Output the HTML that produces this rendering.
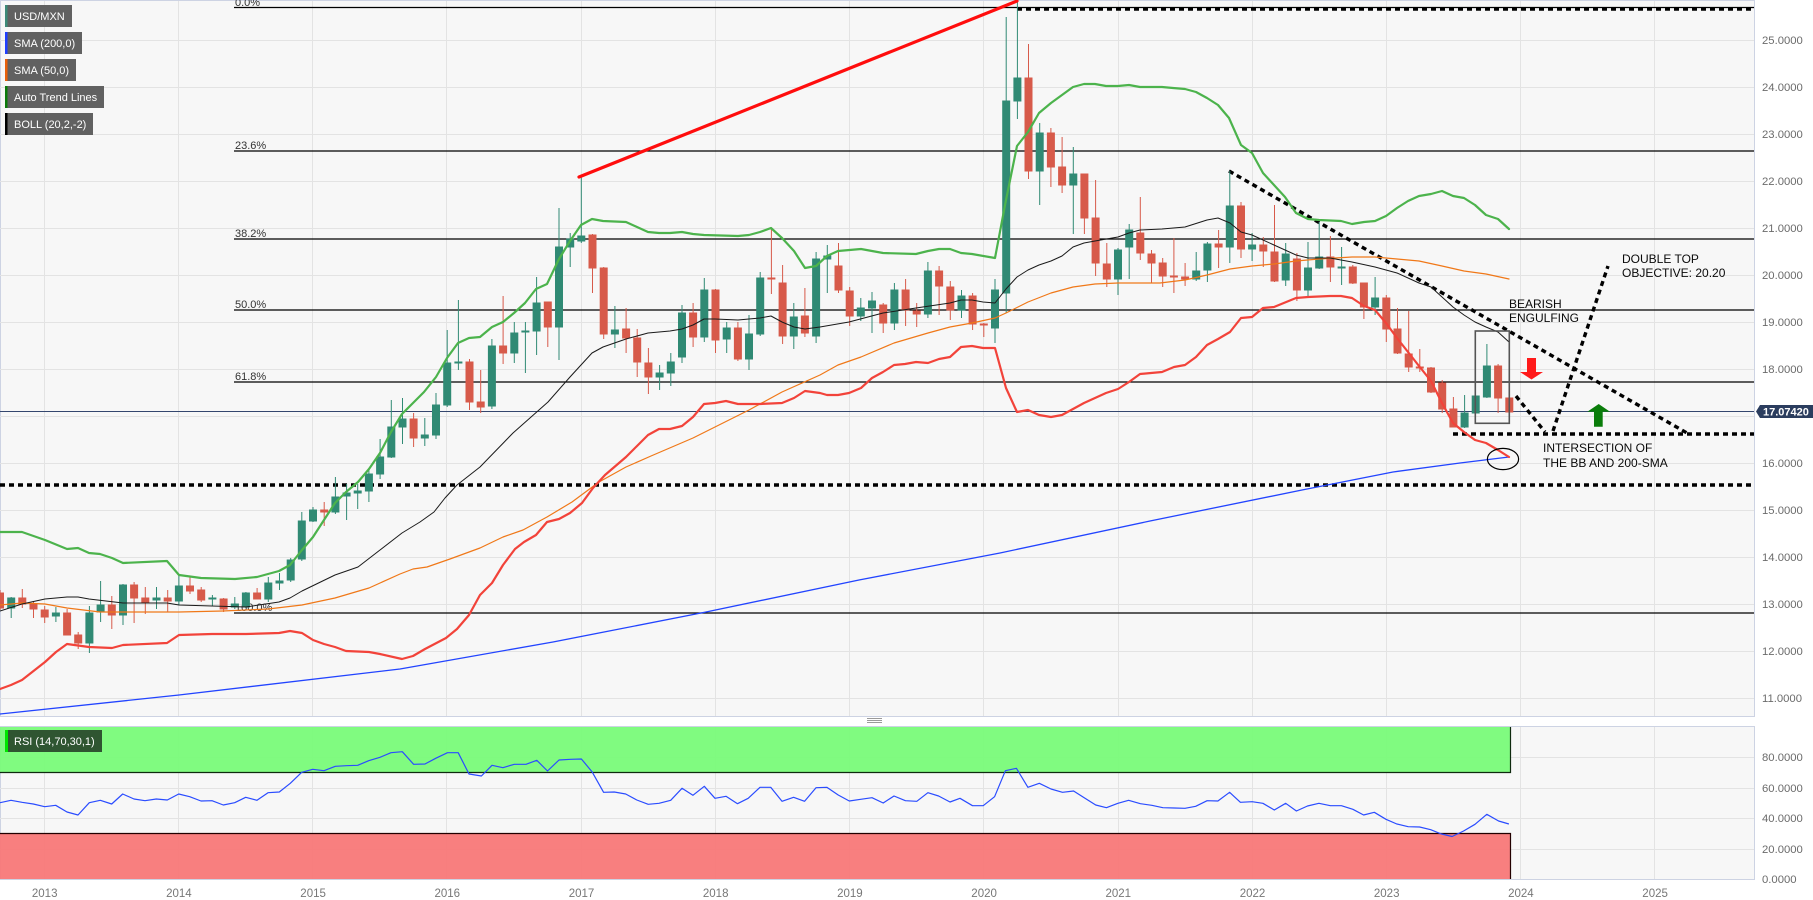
<!DOCTYPE html>
<html><head><meta charset="utf-8"><style>
html,body{margin:0;padding:0;background:#fff;}
svg{display:block;}
text{font-family:"Liberation Sans",Arial,sans-serif;}
</style></head><body>
<svg width="1813" height="900" viewBox="0 0 1813 900" xmlns="http://www.w3.org/2000/svg">
<defs>
<clipPath id="mc"><rect x="0" y="0" width="1754" height="716"/></clipPath>
<clipPath id="rc"><rect x="0" y="726" width="1754" height="153"/></clipPath>
</defs>
<rect x="0" y="0" width="1813" height="900" fill="#fff"/>
<!-- main panel -->
<rect x="0.5" y="0.5" width="1754" height="716" fill="#f7f7f7" stroke="#cdd3e3"/>
<!-- rsi panel -->
<rect x="0.5" y="726.5" width="1754" height="153" fill="#f7f7f7" stroke="#cdd3e3"/>
<!-- grid -->
<g stroke="#e3e3e3" stroke-width="1">
<path d="M0 40.5H1754M0 87.5H1754M0 134.5H1754M0 181.5H1754M0 228.5H1754M0 275.5H1754M0 322.5H1754M0 369.5H1754M0 416.5H1754M0 463.5H1754M0 510.5H1754M0 557.5H1754M0 604.5H1754M0 651.5H1754M0 698.5H1754"/>
<path d="M44.5 1V716M178.5 1V716M312.5 1V716M446.5 1V716M581.5 1V716M715.5 1V716M849.5 1V716M983.5 1V716M1118.5 1V716M1252.5 1V716M1386.5 1V716M1520.5 1V716M1654.5 1V716"/>
<path d="M44.5 727V879M178.5 727V879M312.5 727V879M446.5 727V879M581.5 727V879M715.5 727V879M849.5 727V879M983.5 727V879M1118.5 727V879M1252.5 727V879M1386.5 727V879M1520.5 727V879M1654.5 727V879"/>
<path d="M0 757.5H1754M0 788.5H1754M0 818.5H1754M0 849.5H1754"/>
</g>

<g clip-path="url(#mc)">
<!-- fib lines -->
<g stroke="#000" stroke-width="1.2">
<path d="M234 7.5H1754M234 151H1754M234 239H1754M234 310H1754M234 382H1754M234 613H1754"/>
</g>
<g fill="#333" font-size="11">
<text x="235" y="6">0.0%</text>
<text x="235" y="149">23.6%</text>
<text x="235" y="237">38.2%</text>
<text x="235" y="308">50.0%</text>
<text x="235" y="380">61.8%</text>
<text x="235" y="611">100.0%</text>
</g>
<!-- current price line -->
<path d="M0 411.5H1754" stroke="#34466e" stroke-width="1"/>
<!-- horizontal dashed lines -->
<g stroke="#000" stroke-width="3.4" stroke-dasharray="5 4" fill="none">
<path d="M0 485H1754"/>
<path d="M1453 434H1754"/>
<path d="M1017 9H1754"/>
<path d="M1229 171L1687 433"/>
<path d="M1516 396L1545 432"/>
<path d="M1553 431L1608 266"/>
</g>

<!-- candles red -->
<g fill="#d75a4a" stroke="#d75a4a" stroke-width="1">
<path d="M0 590V610M-3.5 593h7v15h-7z"/>
<path d="M22.3 589V608M18.8 598h7v6h-7z"/>
<path d="M33.5 601V618M30 604h7v5h-7z"/>
<path d="M44.7 606V623M41.2 610h7v7h-7z"/>
<path d="M67.1 609V635M63.6 613h7v22h-7z"/>
<path d="M78.2 632V649M74.7 635h7v8h-7z"/>
<path d="M111.8 596V629M108.3 605h7v10h-7z"/>
<path d="M134.1 582V623M130.6 585h7v13h-7z"/>
<path d="M145.3 587V614M141.8 598h7v5h-7z"/>
<path d="M167.7 590V612M164.2 598h7v3h-7z"/>
<path d="M190 577V594M186.5 586h7v5h-7z"/>
<path d="M201.2 587V602M197.7 590h7v10h-7z"/>
<path d="M223.6 598V612M220.1 599h7v10h-7z"/>
<path d="M257.1 588V599M253.6 593h7v6h-7z"/>
<path d="M324.2 502V526M320.7 510h7v2h-7z"/>
<path d="M413.6 413V447M410.1 419h7v19h-7z"/>
<path d="M469.5 359V410M466 362h7v40h-7z"/>
<path d="M480.7 370V413M477.2 402h7v5h-7z"/>
<path d="M503.1 296V364M499.6 346h7v7h-7z"/>
<path d="M547.8 302V347M544.3 302h7v25h-7z"/>
<path d="M592.5 234V293M589 235h7v33h-7z"/>
<path d="M603.7 267V339M600.2 268h7v66h-7z"/>
<path d="M626.1 308V353M622.6 329h7v9h-7z"/>
<path d="M637.2 329V377M633.7 338h7v24h-7z"/>
<path d="M648.4 348V394M644.9 363h7v14h-7z"/>
<path d="M693.1 303V347M689.6 313h7v24h-7z"/>
<path d="M715.5 289V353M712 290h7v50h-7z"/>
<path d="M737.9 322V361M734.4 328h7v31h-7z"/>
<path d="M771.4 229V294M767.9 278h7v1h-7z"/>
<path d="M782.6 265V344M779.1 283h7v53h-7z"/>
<path d="M804.9 288V337M801.4 316h7v17h-7z"/>
<path d="M838.5 243V293M835 266h7v24h-7z"/>
<path d="M849.7 287V326M846.2 291h7v25h-7z"/>
<path d="M883.2 303V333M879.7 305h7v18h-7z"/>
<path d="M905.6 279V326M902.1 290h7v20h-7z"/>
<path d="M916.7 303V327M913.2 311h7v3h-7z"/>
<path d="M939.1 266V315M935.6 271h7v15h-7z"/>
<path d="M950.3 281V320M946.8 287h7v23h-7z"/>
<path d="M972.6 293V330M969.1 296h7v28h-7z"/>
<path d="M983.8 323V337M980.3 324h7v1h-7z"/>
<path d="M1028.5 44V179M1025 78h7v93h-7z"/>
<path d="M1050.9 128V187M1047.4 133h7v34h-7z"/>
<path d="M1062.1 137V193M1058.6 167h7v18h-7z"/>
<path d="M1084.4 174V234M1080.9 174h7v44h-7z"/>
<path d="M1095.6 180V276M1092.1 218h7v45h-7z"/>
<path d="M1106.8 243V287M1103.3 264h7v15h-7z"/>
<path d="M1140.3 197V260M1136.8 233h7v20h-7z"/>
<path d="M1151.5 250V283M1148 254h7v9h-7z"/>
<path d="M1162.7 258V287M1159.2 263h7v13h-7z"/>
<path d="M1173.9 238V293M1170.4 276h7v1h-7z"/>
<path d="M1185.1 263V286M1181.6 277h7v2h-7z"/>
<path d="M1218.6 230V268M1215.1 244h7v3h-7z"/>
<path d="M1241 202V258M1237.5 206h7v43h-7z"/>
<path d="M1263.3 237V267M1259.8 245h7v6h-7z"/>
<path d="M1274.5 205V282M1271 252h7v29h-7z"/>
<path d="M1296.9 253V301M1293.4 259h7v31h-7z"/>
<path d="M1330.4 236V282M1326.9 257h7v10h-7z"/>
<path d="M1352.8 265V284M1349.3 267h7v16h-7z"/>
<path d="M1363.9 283V319M1360.4 283h7v24h-7z"/>
<path d="M1386.3 295V342M1382.8 298h7v31h-7z"/>
<path d="M1397.5 308V354M1394 329h7v24h-7z"/>
<path d="M1408.7 311V372M1405.2 354h7v13h-7z"/>
<path d="M1419.8 349V372M1416.3 367h7v1h-7z"/>
<path d="M1431 367V393M1427.5 368h7v24h-7z"/>
<path d="M1442.2 380V413M1438.7 383h7v26h-7z"/>
<path d="M1453.4 397V427M1449.9 409h7v18h-7z"/>
<path d="M1498.1 364V413M1494.6 366h7v32h-7z"/>
<path d="M1509.3 388V412M1505.8 398h7v14h-7z"/>
</g>
<!-- candles green -->
<g fill="#308a74" stroke="#308a74" stroke-width="1">
<path d="M11.2 597V618M7.7 598h7v10h-7z"/>
<path d="M55.9 607V622M52.4 613h7v3h-7z"/>
<path d="M89.4 606V653M85.9 613h7v30h-7z"/>
<path d="M100.6 581V622M97.1 605h7v7h-7z"/>
<path d="M123 584V625M119.5 585h7v30h-7z"/>
<path d="M156.5 587V609M153 598h7v2h-7z"/>
<path d="M178.9 575V605M175.4 586h7v15h-7z"/>
<path d="M212.4 595V606M208.9 598h7v1h-7z"/>
<path d="M234.8 597V609M231.3 604h7v3h-7z"/>
<path d="M245.9 592V608M242.4 593h7v14h-7z"/>
<path d="M268.3 577V602M264.8 583h7v16h-7z"/>
<path d="M279.5 573V590M276 581h7v2h-7z"/>
<path d="M290.7 558V582M287.2 560h7v20h-7z"/>
<path d="M301.8 512V561M298.3 521h7v38h-7z"/>
<path d="M313 507V522M309.5 510h7v11h-7z"/>
<path d="M335.4 477V514M331.9 497h7v15h-7z"/>
<path d="M346.6 484V520M343.1 493h7v3h-7z"/>
<path d="M357.7 484V509M354.2 491h7v2h-7z"/>
<path d="M368.9 470V502M365.4 474h7v17h-7z"/>
<path d="M380.1 439V479M376.6 457h7v17h-7z"/>
<path d="M391.3 400V458M387.8 427h7v30h-7z"/>
<path d="M402.5 398V444M399 419h7v8h-7z"/>
<path d="M424.8 418V446M421.3 435h7v3h-7z"/>
<path d="M436 393V439M432.5 405h7v30h-7z"/>
<path d="M447.2 330V407M443.7 363h7v42h-7z"/>
<path d="M458.4 300V370M454.9 362h7v1h-7z"/>
<path d="M491.9 339V409M488.4 346h7v60h-7z"/>
<path d="M514.3 322V363M510.8 333h7v20h-7z"/>
<path d="M525.4 322V373M521.9 331h7v1h-7z"/>
<path d="M536.6 277V355M533.1 303h7v28h-7z"/>
<path d="M559 208V360M555.5 247h7v80h-7z"/>
<path d="M570.2 233V267M566.7 239h7v8h-7z"/>
<path d="M581.3 177V243M577.8 236h7v5h-7z"/>
<path d="M614.9 306V348M611.4 330h7v4h-7z"/>
<path d="M659.6 365V390M656.1 373h7v4h-7z"/>
<path d="M670.8 353V386M667.3 362h7v11h-7z"/>
<path d="M682 305V363M678.5 313h7v44h-7z"/>
<path d="M704.3 278V342M700.8 290h7v47h-7z"/>
<path d="M726.7 322V353M723.2 328h7v11h-7z"/>
<path d="M749 315V370M745.5 334h7v25h-7z"/>
<path d="M760.2 272V336M756.7 278h7v56h-7z"/>
<path d="M793.8 303V349M790.3 317h7v19h-7z"/>
<path d="M816.1 252V343M812.6 259h7v77h-7z"/>
<path d="M827.3 245V293M823.8 256h7v3h-7z"/>
<path d="M860.8 298V321M857.3 308h7v8h-7z"/>
<path d="M872 292V333M868.5 301h7v7h-7z"/>
<path d="M894.4 283V330M890.9 290h7v33h-7z"/>
<path d="M927.9 262V318M924.4 271h7v43h-7z"/>
<path d="M961.5 290V318M958 296h7v14h-7z"/>
<path d="M995 279V343M991.5 290h7v38h-7z"/>
<path d="M1006.2 17V313M1002.7 101h7v192h-7z"/>
<path d="M1017.4 2V119M1013.9 78h7v23h-7z"/>
<path d="M1039.7 123V205M1036.2 133h7v38h-7z"/>
<path d="M1073.3 147V234M1069.8 174h7v11h-7z"/>
<path d="M1118 248V295M1114.5 250h7v29h-7z"/>
<path d="M1129.2 224V279M1125.7 230h7v17h-7z"/>
<path d="M1196.2 252V281M1192.7 271h7v8h-7z"/>
<path d="M1207.4 242V282M1203.9 244h7v26h-7z"/>
<path d="M1229.8 171V263M1226.3 206h7v41h-7z"/>
<path d="M1252.1 233V261M1248.6 245h7v4h-7z"/>
<path d="M1285.7 243V286M1282.2 254h7v26h-7z"/>
<path d="M1308 242V297M1304.5 268h7v22h-7z"/>
<path d="M1319.2 222V269M1315.7 257h7v11h-7z"/>
<path d="M1341.6 247V285M1338.1 267h7v1h-7z"/>
<path d="M1375.1 277V315M1371.6 298h7v9h-7z"/>
<path d="M1464.6 395V428M1461.1 413h7v14h-7z"/>
<path d="M1475.7 396V413M1472.2 396h7v17h-7z"/>
<path d="M1486.9 344V398M1483.4 366h7v31h-7z"/>
</g>

<!-- indicators -->
<g fill="none" stroke-linejoin="round" stroke-linecap="round">
<polyline stroke="#2244ff" stroke-width="1.3" points="0,714 179,695 400,669 553,642 706,612 859,580 1000,553 1150,521 1302,490 1393,472 1460,463 1509,457"/>
<polyline stroke="#f07818" stroke-width="1.2" points="0,605 22,603 45,604 67,608 100,612 179,612 223,611 268,609 302,605 335,598 369,588 400,574 413,569 427,567 450,559 480,548 503,537 523,530 547,517 572,502 599,482 626,467 651,456 693,438 749,410 782,392 820,375 838,365 861,357 894,343 928,333 950,327 972,323 995,318 1006,313 1028,302 1051,293 1073,287 1095,284 1118,283 1151,283 1160,283 1185,280 1207,275 1230,269 1252,266 1274,264 1296,261 1319,259 1352,257 1375,257 1397,259 1419,261 1442,266 1464,271 1486,274 1509,279"/>
<polyline stroke="#1a1a1a" stroke-width="1" points="0,611 22,604 45,599 67,597 78,597 89,599 123,603 167,603 179,605 212,606 246,607 279,602 290,598 302,591 335,575 358,567 380,550 402,533 420,522 434,512 445,498 457,485 480,467 513,433 548,402 570,377 592,353 603,347 626,339 648,333 670,331 682,329 693,325 704,319 715,319 738,320 760,318 771,316 782,322 794,327 805,329 820,327 849,322 883,313 916,308 950,303 961,300 972,300 983,302 995,303 1006,289 1017,277 1028,270 1039,265 1051,261 1062,256 1073,247 1084,243 1095,241 1118,237 1129,233 1140,230 1162,229 1185,227 1207,220 1218,218 1230,223 1241,232 1252,235 1274,245 1296,255 1308,258 1330,258 1352,262 1375,267 1397,273 1419,283 1431,287 1442,297 1453,307 1464,315 1475,322 1486,327 1498,332 1509,342"/>
<polyline stroke="#4cb34c" stroke-width="2.2" points="0,532 22,532 45,540 67,549 78,548 89,553 100,554 112,558 123,563 167,561 179,575 201,578 235,579 257,577 279,571 290,565 302,550 313,537 324,520 335,503 346,492 358,482 369,469 380,453 391,432 402,414 413,403 424,392 436,377 447,358 458,343 469,338 480,337 492,327 503,322 514,313 525,303 536,289 547,284 559,259 570,241 581,225 592,219 603,221 626,222 637,227 648,232 659,233 670,233 682,232 693,234 704,235 738,236 749,235 760,232 771,228 782,238 794,251 805,268 816,266 827,256 838,251 861,249 883,253 916,254 928,251 939,249 950,249 961,253 972,254 995,258 1006,200 1017,146 1028,132 1039,113 1051,103 1062,95 1073,87 1084,84 1095,84 1106,86 1118,86 1129,85 1140,87 1151,87 1162,87 1173,88 1185,89 1196,92 1207,98 1218,105 1229,118 1241,145 1252,153 1263,173 1274,185 1285,197 1296,213 1308,219 1319,220 1341,221 1352,224 1364,222 1375,221 1386,216 1397,208 1408,201 1419,196 1431,194 1442,191 1453,196 1464,198 1475,205 1486,215 1498,219 1509,229"/>
<polyline stroke="#f2433a" stroke-width="2.2" points="0,689 11,685 22,680 45,662 56,652 67,644 89,647 112,648 123,645 167,643 179,635 212,634 246,634 279,633 290,631 302,633 313,640 324,644 335,647 346,651 369,652 380,654 402,659 413,656 425,649 446,638 457,629 469,615 480,595 492,583 503,565 515,549 524,542 536,535 547,522 559,519 570,513 582,503 593,488 605,475 626,457 648,435 659,429 670,429 682,426 693,417 704,404 715,403 726,401 738,404 760,404 782,403 794,398 805,391 820,393 827,395 838,395 849,393 861,388 872,378 883,372 894,365 905,364 916,362 928,363 939,359 950,357 961,347 972,346 983,348 995,348 1006,388 1017,412 1028,410 1039,415 1051,417 1062,415 1073,409 1084,403 1095,398 1106,393 1118,389 1129,382 1140,374 1151,373 1162,372 1174,367 1185,365 1196,357 1207,345 1218,339 1230,332 1241,318 1252,317 1263,308 1274,307 1296,298 1308,297 1330,296 1341,296 1352,298 1364,306 1375,310 1386,323 1397,338 1408,352 1419,366 1431,381 1442,403 1453,423 1464,432 1475,440 1486,443 1498,450 1509,457"/>
<!-- red auto trend line -->
<path d="M579 177L1017 1" stroke="#ff0d0d" stroke-width="3.2"/>
</g>

<!-- annotations -->
<rect x="1475.3" y="331" width="34" height="92.3" fill="none" stroke="#555" stroke-width="1.6"/>
<ellipse cx="1503" cy="459" rx="15.6" ry="10.6" fill="none" stroke="#000" stroke-width="1.2"/>
<polygon points="1527,358 1536,358 1536,372 1543,372 1531.5,379.5 1520,372 1527,372" fill="#ff1a1a"/>
<polygon points="1598.7,404 1610,411.7 1602.7,411.7 1602.7,426.7 1594,426.7 1594,411.7 1587.3,411.7" fill="#0a7d0a"/>
<g fill="#0a0a0a" font-size="12">
<text x="1509" y="308">BEARISH</text>
<text x="1509" y="322">ENGULFING</text>
<text x="1622" y="263">DOUBLE TOP</text>
<text x="1622" y="277">OBJECTIVE: 20.20</text>
<text x="1543" y="452">INTERSECTION OF</text>
<text x="1543" y="467">THE BB AND 200-SMA</text>
</g>
</g>

<!-- legend -->
<g font-size="11" fill="#fff">
<rect x="5" y="5" width="67" height="22" fill="#616161"/><rect x="5" y="5" width="2.5" height="22" fill="#3c8a78"/>
<text x="14" y="20">USD/MXN</text>
<rect x="5" y="32" width="77" height="22" fill="#616161"/><rect x="5" y="32" width="2.5" height="22" fill="#1f3fff"/>
<text x="14" y="47">SMA (200,0)</text>
<rect x="5" y="59" width="71" height="22" fill="#616161"/><rect x="5" y="59" width="2.5" height="22" fill="#e8600a"/>
<text x="14" y="74">SMA (50,0)</text>
<rect x="5" y="86" width="99" height="22" fill="#616161"/><rect x="5" y="86" width="2.5" height="22" fill="#0a7a0a"/>
<text x="14" y="101">Auto Trend Lines</text>
<rect x="5" y="113" width="88" height="22" fill="#616161"/><rect x="5" y="113" width="2.5" height="22" fill="#000"/>
<text x="14" y="128">BOLL (20,2,-2)</text>
</g>

<!-- divider handle -->
<g stroke="#9a9a9a" stroke-width="1">
<path d="M867 718.5H882M867 720.5H882M867 722.5H882"/>
</g>

<!-- RSI panel content -->
<g clip-path="url(#rc)">
<rect x="0" y="727" width="1510" height="45" fill="#79fb79" fill-opacity="0.95"/>
<rect x="0" y="833" width="1510" height="46" fill="#f87878" fill-opacity="0.95"/>
<path d="M0 772.5H1510.5V727" stroke="#0f2a0f" stroke-width="1.2" fill="none"/>
<path d="M0 833.5H1510.5V879" stroke="#200" stroke-width="1.2" fill="none"/>
<polyline fill="none" stroke="#2a4cff" stroke-width="1.2" stroke-linejoin="round" points="0,802.7 11,800.3 22,802.3 33.3,804 44.7,806.7 55.7,805.3 67,812 78,815 89.3,802.7 100.3,800.3 111.7,804 122.7,794 134,799 145,800.7 156.3,799 167.3,800 178.7,794 189.7,796.7 201,801 212,800.7 223.3,805 234.7,802.7 245.7,797.3 257,800.3 268,792.7 279.3,792 290.3,783.3 301.7,772.3 312.7,769.3 324,770.7 335.3,766.3 346.3,765.7 357.7,765.3 368.7,760.7 380,757.3 391,752.7 402.3,751.7 413.6,764.3 425,764 435.7,758.3 447.5,752.7 458.2,752.7 469,774 481.4,776 492,765.3 502.9,767.7 514.3,764.3 526,764.3 536.8,760.3 547.5,771 559,760 570.7,759.3 581.4,759 592,771.7 603.6,792.3 614.3,792 625.7,794 636.8,800 648.2,804.3 659,803.3 670.7,800.3 682,788.3 692.9,795.3 704.3,786.3 715,798.3 726,796.3 737.5,803.7 748.2,798.3 760,787.3 770.7,787.3 782,801.3 793.6,797.3 804.6,801.3 816,787.7 826.8,787.3 838.2,795 849.3,801 860.7,799.3 872,797.7 883.2,803 894,796 905.4,800.7 916.8,801.3 927.9,792.7 938.6,796 950,802 960,798.3 972.5,805.7 983.2,805.7 994.6,796.7 1005.4,770.7 1016.4,768.3 1027.9,787.3 1039.3,783.3 1051,789 1062.5,792.3 1073.6,791 1085,798.3 1095.7,805 1106.4,807.7 1117.9,803.3 1128.6,800.3 1140.4,803.7 1151.8,805.3 1162.9,807.7 1174.3,808 1185,808.3 1195.7,806.3 1207.1,800.7 1217.9,801 1229.6,792.3 1240.4,802.3 1252.1,801.7 1262.9,803.3 1274.3,810 1285.7,803.3 1296.4,811 1307.5,806 1318.9,803.3 1330.4,805.7 1341.4,805.7 1352.9,809.3 1363.6,815 1374.3,812.3 1386,819.3 1396.8,824 1408.2,826.7 1419.6,827 1430.7,829.7 1441.4,834 1452.1,836.5 1463.6,831 1475,824.3 1486.8,814.3 1498.6,821 1508.9,824"/>
</g>
<g font-size="11" fill="#fff">
<rect x="5" y="730" width="97" height="22" fill="#2f5531"/><rect x="5" y="730" width="3" height="22" fill="#00e600"/>
<text x="14" y="745">RSI (14,70,30,1)</text>
</g>

<!-- y axis labels -->
<g font-size="11.3" fill="#6b6b6b">
<text x="1762" y="44">25.0000</text>
<text x="1762" y="91">24.0000</text>
<text x="1762" y="138">23.0000</text>
<text x="1762" y="185">22.0000</text>
<text x="1762" y="232">21.0000</text>
<text x="1762" y="279">20.0000</text>
<text x="1762" y="326">19.0000</text>
<text x="1762" y="373">18.0000</text>
<text x="1762" y="467">16.0000</text>
<text x="1762" y="514">15.0000</text>
<text x="1762" y="561">14.0000</text>
<text x="1762" y="608">13.0000</text>
<text x="1762" y="655">12.0000</text>
<text x="1762" y="702">11.0000</text>
<text x="1762" y="761">80.0000</text>
<text x="1762" y="792">60.0000</text>
<text x="1762" y="822">40.0000</text>
<text x="1762" y="853">20.0000</text>
<text x="1762" y="883">0.0000</text>
</g>
<!-- price tag -->
<polygon points="1756,411.5 1760,405 1813,405 1813,418 1760,418" fill="#2b3d5e"/>
<text x="1763" y="415.5" font-size="11" font-weight="bold" fill="#fff">17.07420</text>

<!-- x axis labels -->
<g font-size="11.5" fill="#777" text-anchor="middle">
<text x="44.7" y="897">2013</text>
<text x="178.9" y="897">2014</text>
<text x="313.1" y="897">2015</text>
<text x="447.3" y="897">2016</text>
<text x="581.5" y="897">2017</text>
<text x="715.7" y="897">2018</text>
<text x="849.9" y="897">2019</text>
<text x="984.1" y="897">2020</text>
<text x="1118.3" y="897">2021</text>
<text x="1252.5" y="897">2022</text>
<text x="1386.7" y="897">2023</text>
<text x="1520.9" y="897">2024</text>
<text x="1655.1" y="897">2025</text>
</g>
</svg>
</body></html>
